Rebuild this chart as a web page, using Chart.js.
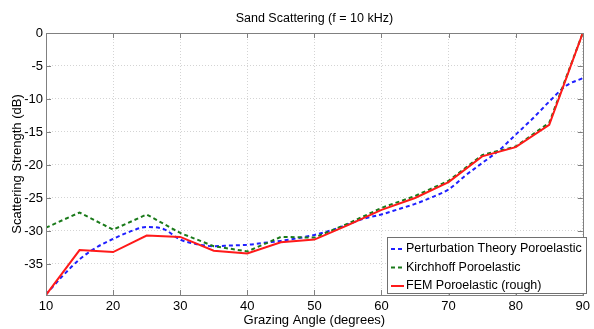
<!DOCTYPE html>
<html>
<head>
<meta charset="utf-8">
<script src="https://cdn.jsdelivr.net/npm/chart.js@4/dist/chart.umd.min.js"></script>
<style>
  html, body { margin: 0; padding: 0; background: #fff; }
  #wrap { width: 594px; height: 329px; }
</style>
</head>
<body>
<div id="wrap"><canvas id="chart" width="594" height="329"></canvas></div>
<script>
// Data
const anglesFem = [10, 15, 20, 25, 30, 35, 40, 45, 50, 55, 60, 65, 70, 75, 80, 85, 90];
const femRough = [-39.7, -32.9, -33.2, -30.7, -30.9, -33.0, -33.4, -31.7, -31.3, -29.1, -26.8, -25.0, -22.6, -18.7, -17.3, -13.9, 0];
const kirchhoff = [-29.5, -27.2, -29.8, -27.5, -30.3, -32.3, -33.1, -30.9, -31.0, -28.9, -26.5, -24.7, -22.4, -18.5, -17.2, -13.6, 0];

const anglesPt = [10, 12.5, 15, 17.5, 20, 22.5, 25, 27.5, 30, 32.5, 35, 37.5, 40, 42.5, 45, 47.5, 50,
                  52.5, 55, 57.5, 60, 62.5, 65, 67.5, 70, 72.5, 75, 77.5, 80, 82.5, 85, 87.5, 90];
const perturbation = [-39.6, -36.8, -34.3, -32.5, -31.2, -30.1, -29.4, -29.7, -31.3, -32.0, -32.3, -32.2, -32.1, -31.8, -31.5, -31.1, -30.6,
                      -29.9, -29.0, -28.1, -27.5, -26.7, -25.9, -24.9, -23.7, -21.6, -19.7, -17.8, -15.4, -13.0, -10.4, -8.0, -6.85];

const xTicks = [10, 20, 30, 40, 50, 60, 70, 80, 90];
const yTicks = [-35, -30, -25, -20, -15, -10, -5, 0];
const seriesNames = ['Perturbation Theory Poroelastic', 'Kirchhoff Poroelastic', 'FEM Poroelastic (rough)'];

const FONT = '"Liberation Sans", Arial, Helvetica, sans-serif';

function toPoints(xs, ys) {
    return xs.map((x, i) => ({ x: x, y: ys[i] }));
}

// Matlab-like box, inner ticks and legend inside the axes
const matlabAxes = {
    id: 'matlabAxes',
    afterDraw(chart) {
        const ctx = chart.ctx;
        const area = chart.chartArea;
        const xs = chart.scales.x;
        const ys = chart.scales.y;
        ctx.save();

        // tick marks inside
        ctx.strokeStyle = '#808080';
        ctx.lineWidth = 1;
        ctx.beginPath();
        xTicks.forEach(v => {
            const px = Math.round(xs.getPixelForValue(v)) + 0.5;
            ctx.moveTo(px, area.bottom); ctx.lineTo(px, area.bottom - 5);
            ctx.moveTo(px, area.top); ctx.lineTo(px, area.top + 5);
        });
        yTicks.forEach(v => {
            const py = Math.round(ys.getPixelForValue(v)) + 0.5;
            ctx.moveTo(area.left, py); ctx.lineTo(area.left + 5, py);
            ctx.moveTo(area.right, py); ctx.lineTo(area.right - 5, py);
        });
        ctx.stroke();

        // box
        ctx.strokeRect(Math.round(area.left) + 0.5, Math.round(area.top) + 0.5,
            Math.round(area.right - area.left), Math.round(area.bottom - area.top));

        // legend
        const lx = 387, ly = 237, lw = 199, lh = 56;
        ctx.fillStyle = '#ffffff';
        ctx.fillRect(lx, ly, lw, lh);
        ctx.strokeStyle = '#707070';
        ctx.strokeRect(lx + 0.5, ly + 0.5, lw, lh);
        ctx.font = '12.5px ' + FONT;
        ctx.textBaseline = 'middle';
        chart.data.datasets.forEach((ds, i) => {
            const rowY = ly + 12 + i * 18.5;
            ctx.strokeStyle = ds.borderColor;
            ctx.lineWidth = ds.borderWidth;
            ctx.setLineDash(ds.borderDash || []);
            ctx.beginPath();
            ctx.moveTo(lx + 4, rowY);
            ctx.lineTo(lx + 17, rowY);
            ctx.stroke();
            ctx.setLineDash([]);
            ctx.fillStyle = '#000000';
            ctx.fillText(ds.label, lx + 19, rowY);
        });
        ctx.restore();
    }
};

const ctx = document.getElementById('chart').getContext('2d');
const chart = new Chart(ctx, {
    type: 'line',
    data: {
        datasets: [
            {
                label: seriesNames[0],
                data: toPoints(anglesPt, perturbation),
                borderColor: '#1f1fff',
                borderWidth: 2,
                borderDash: [4, 3],
                cubicInterpolationMode: 'monotone',
                pointRadius: 0,
                fill: false,
                order: 2
            },
            {
                label: seriesNames[1],
                data: toPoints(anglesFem, kirchhoff),
                borderColor: '#1a7a1a',
                borderWidth: 2,
                borderDash: [4, 3],
                tension: 0,
                pointRadius: 0,
                fill: false,
                order: 1
            },
            {
                label: seriesNames[2],
                data: toPoints(anglesFem, femRough),
                borderColor: '#ff1a1a',
                borderWidth: 2,
                tension: 0,
                pointRadius: 0,
                fill: false,
                order: 0
            }
        ]
    },
    options: {
        responsive: false,
        animation: false,
        layout: { padding: { left: 0, right: 7, top: 0, bottom: 0 } },
        plugins: {
            legend: { display: false },
            tooltip: { enabled: false },
            title: {
                display: true,
                fullSize: false,
                text: 'Sand Scattering (f = 10 kHz)',
                color: '#000',
                font: { family: FONT, size: 12.5, weight: 'normal' },
                padding: { top: 10.8, bottom: 7.2 }
            }
        },
        scales: {
            x: {
                type: 'linear',
                min: 10,
                max: 90,
                afterBuildTicks: s => { s.ticks = xTicks.map(v => ({ value: v })); },
                afterFit: s => { s.height = 34; },
                ticks: {
                    color: '#000',
                    padding: 4,
                    maxRotation: 0,
                    font: { family: FONT, size: 13 },
                    callback: v => String(v)
                },
                grid: { color: '#d4d4d4', drawTicks: false, lineWidth: 1 },
                border: { display: false, dash: [1, 2] },
                title: {
                    display: true,
                    text: 'Grazing Angle (degrees)',
                    color: '#000',
                    font: { family: FONT, size: 13 },
                    padding: { top: 0, bottom: 1.2 }
                }
            },
            y: {
                type: 'linear',
                min: -39.7,
                max: 0,
                afterBuildTicks: s => { s.ticks = yTicks.map(v => ({ value: v })); },
                afterFit: s => { s.width = 46; },
                ticks: {
                    color: '#000',
                    padding: 3,
                    font: { family: FONT, size: 13 },
                    callback: v => String(v)
                },
                grid: { color: '#d4d4d4', drawTicks: false, lineWidth: 1 },
                border: { display: false, dash: [1, 2] },
                title: {
                    display: true,
                    text: 'Scattering Strength (dB)',
                    color: '#000',
                    font: { family: FONT, size: 13 },
                    padding: { top: 9.7, bottom: 0 }
                }
            }
        }
    },
    plugins: [matlabAxes]
});
</script>
</body>
</html>
